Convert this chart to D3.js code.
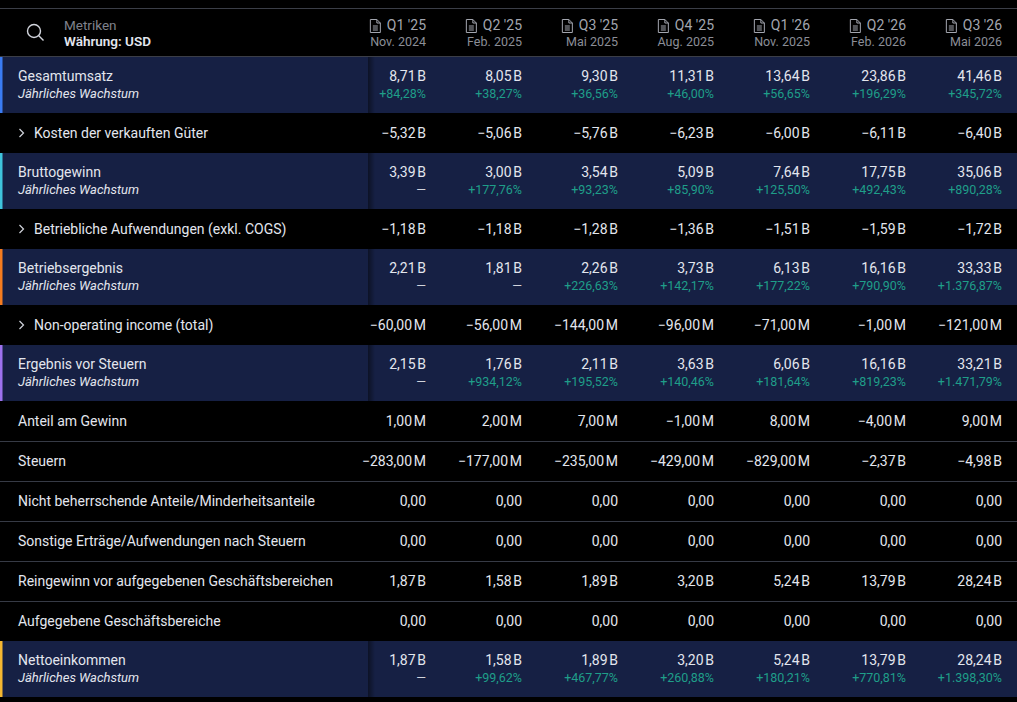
<!DOCTYPE html>
<html>
<head>
<meta charset="UTF-8">
<title></title>
<style type="text/css">
	html, body { margin: 0; padding: 0; background: #000; }
	svg { display: block; }
	text { font-family: "Trebuchet MS", Roboto, "Noto Sans", sans-serif; }
</style>
</head>
<body>
<div class="tableBox"></div>
<script src="https://cdn.jsdelivr.net/npm/d3@7/dist/d3.min.js"></script>
<script type="text/javascript">

// Spalten (Perioden)
var periods = ["Q1 '25", "Q2 '25", "Q3 '25", "Q4 '25", "Q1 '26", "Q2 '26", "Q3 '26"];
var periodDates = ["Nov. 2024", "Feb. 2025", "Mai 2025", "Aug. 2025", "Nov. 2025", "Feb. 2026", "Mai 2026"];

// Werte in Mio. USD, Wachstum in %
var revenue = [8710, 8050, 9300, 11310, 13640, 23860, 41460];
var revenueGrowth = [84.28, 38.27, 36.56, 46.00, 56.65, 196.29, 345.72];
var cogs = [-5320, -5060, -5760, -6230, -6000, -6110, -6400];
var grossProfit = [3390, 3000, 3540, 5090, 7640, 17750, 35060];
var grossProfitGrowth = [null, 177.76, 93.23, 85.90, 125.50, 492.43, 890.28];
var opex = [-1180, -1180, -1280, -1360, -1510, -1590, -1720];
var operatingIncome = [2210, 1810, 2260, 3730, 6130, 16160, 33330];
var operatingIncomeGrowth = [null, null, 226.63, 142.17, 177.22, 790.90, 1376.87];
var nonOperating = [-60, -56, -144, -96, -71, -1, -121];
var pretaxIncome = [2150, 1760, 2110, 3630, 6060, 16160, 33210];
var pretaxIncomeGrowth = [null, 934.12, 195.52, 140.46, 181.64, 819.23, 1471.79];
var equityShare = [1, 2, 7, -1, 8, -4, 9];
var taxes = [-283, -177, -235, -429, -829, -2370, -4980];
var minorityInterest = [0, 0, 0, 0, 0, 0, 0];
var otherAfterTax = [0, 0, 0, 0, 0, 0, 0];
var incomeContinuing = [1870, 1580, 1890, 3200, 5240, 13790, 28240];
var discontinued = [0, 0, 0, 0, 0, 0, 0];
var netIncome = [1870, 1580, 1890, 3200, 5240, 13790, 28240];
var netIncomeGrowth = [null, 99.62, 467.77, 260.88, 180.21, 770.81, 1398.30];

// Zeilen: Beschriftung, Werte, Wachstum, Akzentfarbe, aufklappbar
var rows = [
	{ label: "Gesamtumsatz", values: revenue, growth: revenueGrowth, accent: "#3a7cf4" },
	{ label: "Kosten der verkauften Güter", values: cogs, expand: true },
	{ label: "Bruttogewinn", values: grossProfit, growth: grossProfitGrowth, accent: "#3fc4dc" },
	{ label: "Betriebliche Aufwendungen (exkl. COGS)", values: opex, expand: true },
	{ label: "Betriebsergebnis", values: operatingIncome, growth: operatingIncomeGrowth, accent: "#f57c1f" },
	{ label: "Non-operating income (total)", values: nonOperating, expand: true },
	{ label: "Ergebnis vor Steuern", values: pretaxIncome, growth: pretaxIncomeGrowth, accent: "#9d72ee" },
	{ label: "Anteil am Gewinn", values: equityShare },
	{ label: "Steuern", values: taxes },
	{ label: "Nicht beherrschende Anteile/Minderheitsanteile", values: minorityInterest },
	{ label: "Sonstige Erträge/Aufwendungen nach Steuern", values: otherAfterTax },
	{ label: "Reingewinn vor aufgegebenen Geschäftsbereichen", values: incomeContinuing },
	{ label: "Aufgegebene Geschäftsbereiche", values: discontinued },
	{ label: "Nettoeinkommen", values: netIncome, growth: netIncomeGrowth, accent: "#f5b731" }
];

var width = 1017;
var height = 702;
var headerTop = 8;
var headerBottom = 57;
var hiHeight = 56; // Zeile mit Wachstum
var rowHeight = 40;
var labelColW = 368;

// deutsches Zahlenformat
var de = d3.formatLocale({ decimal: ",", thousands: ".", grouping: [3], currency: ["", " $"], minus: "\u2212" });
var f2 = de.format(",.2f");
var fPct = de.format("+,.2f");

function fmtValue(v) {
	if (v === 0) return "0,00";
	if (Math.abs(v) >= 1000) return f2(v / 1000) + "\u202FB";
	return f2(v) + "\u202FM";
}
function fmtGrowth(g) {
	return g == null ? "\u2014" : fPct(g) + "%";
}

// Zeilenpositionen
var yPos = 0;
rows.forEach(function(r) {
	r.h = r.growth ? hiHeight : rowHeight;
	r.y = headerBottom + yPos;
	yPos += r.h;
});

var x = d3.scalePoint()
	.domain(periods)
	.range([426, 1002]);

var svg = d3.select(".tableBox")
	.append("svg")
	.attr("width", width)
	.attr("height", height);

svg.append("rect")
	.attr("width", width)
	.attr("height", height)
	.attr("fill", "#000");

var defs = svg.append("defs");
var grad = defs.append("linearGradient").attr("id", "stickyShadow");
grad.append("stop").attr("offset", "0%").attr("stop-color", "#000").attr("stop-opacity", 0.45);
grad.append("stop").attr("offset", "100%").attr("stop-color", "#000").attr("stop-opacity", 0);

// Kopfzeile
svg.append("line")
	.attr("x1", 0).attr("x2", width)
	.attr("y1", headerTop + 0.5).attr("y2", headerTop + 0.5)
	.attr("stroke", "#3b3e47");
svg.append("line")
	.attr("x1", 0).attr("x2", width)
	.attr("y1", headerBottom - 0.5).attr("y2", headerBottom - 0.5)
	.attr("stroke", "#3b3e47");

// Lupe
var search = svg.append("g").attr("transform", "translate(34,31)")
	.attr("fill", "none").attr("stroke", "#d1d4dc").attr("stroke-width", 1.4);
search.append("circle").attr("r", 6.5);
search.append("line").attr("x1", 4.8).attr("y1", 4.8).attr("x2", 9.5).attr("y2", 9.5);

svg.append("text")
	.attr("x", 64).attr("y", 30)
	.attr("fill", "#7f828c").attr("font-size", 13.5)
	.text("Metriken");
svg.append("text")
	.attr("x", 64).attr("y", 46)
	.attr("fill", "#e3e6ee").attr("font-size", 13.5).attr("font-weight", 600)
	.text("Währung: USD");

var head = svg.selectAll("g.colHead")
	.data(periods)
	.enter()
	.append("g")
	.attr("class", "colHead")
	.attr("transform", function(d) { return "translate(" + x(d) + ",0)"; });

head.append("text")
	.attr("y", 30)
	.attr("text-anchor", "end")
	.attr("fill", "#a3a6af").attr("font-size", 14)
	.text(function(d) { return d; });
head.append("text")
	.attr("y", 46)
	.attr("text-anchor", "end")
	.attr("fill", "#8b8e97").attr("font-size", 12.5)
	.text(function(d, i) { return periodDates[i]; });

// Dokument-Symbol links vom Quartal
head.each(function() {
	var g = d3.select(this);
	var w = g.select("text").node().getComputedTextLength();
	var ic = g.append("g")
		.attr("transform", "translate(" + (-w - 17) + ",19)")
		.attr("fill", "none").attr("stroke", "#a3a6af").attr("stroke-width", 1);
	ic.append("path").attr("d", "M0.5,0.5 H7 L10.5,4 V13.5 H0.5 Z M7,0.5 V4 H10.5");
	ic.append("path").attr("d", "M3,7 H8 M3,9 H8 M3,11 H8");
});

// Zeilen
var row = svg.selectAll("g.row")
	.data(rows)
	.enter()
	.append("g")
	.attr("class", "row")
	.attr("transform", function(d) { return "translate(0," + d.y + ")"; });

row.filter(function(d) { return d.growth; })
	.append("rect")
	.attr("width", width)
	.attr("height", function(d) { return d.h; })
	.attr("fill", "#162044");

row.filter(function(d) { return d.growth; })
	.append("rect")
	.attr("x", labelColW)
	.attr("width", 7)
	.attr("height", function(d) { return d.h; })
	.attr("fill", "url(#stickyShadow)");

row.filter(function(d) { return d.accent; })
	.append("rect")
	.attr("width", 2.5)
	.attr("height", function(d) { return d.h; })
	.attr("fill", function(d) { return d.accent; });

// Trennlinien zwischen zwei einfachen Zeilen
row.filter(function(d, i) { return i > 0 && !d.growth && !d.expand && !rows[i - 1].growth && !rows[i - 1].expand; })
	.append("line")
	.attr("x1", 0).attr("x2", width)
	.attr("y1", 0.5).attr("y2", 0.5)
	.attr("stroke", "#363a45");

row.filter(function(d) { return d.expand; })
	.append("path")
	.attr("d", "M19.5,16 L23.5,20 L19.5,24")
	.attr("fill", "none")
	.attr("stroke", "#d1d4dc")
	.attr("stroke-width", 1.2);

row.append("text")
	.attr("x", function(d) { return d.expand ? 34 : 18; })
	.attr("y", function(d) { return d.growth ? 24 : 25; })
	.attr("fill", "#e3e6ee")
	.attr("font-size", 14)
	.text(function(d) { return d.label; });

row.filter(function(d) { return d.growth; })
	.append("text")
	.attr("x", 18).attr("y", 41)
	.attr("fill", "#e3e6ee")
	.attr("font-size", 13)
	.attr("font-style", "italic")
	.text("Jährliches Wachstum");

row.selectAll("text.val")
	.data(function(d) { return d.values.map(function(v, i) { return { v: v, p: periods[i], hi: !!d.growth }; }); })
	.enter()
	.append("text")
	.attr("class", "val")
	.attr("x", function(d) { return x(d.p); })
	.attr("y", function(d) { return d.hi ? 24 : 25; })
	.attr("text-anchor", "end")
	.attr("fill", "#e3e6ee")
	.attr("font-size", 14)
	.text(function(d) { return fmtValue(d.v); });

row.filter(function(d) { return d.growth; })
	.selectAll("text.growth")
	.data(function(d) { return d.growth.map(function(g, i) { return { g: g, p: periods[i] }; }); })
	.enter()
	.append("text")
	.attr("class", "growth")
	.attr("x", function(d) { return x(d.p); })
	.attr("y", 41)
	.attr("text-anchor", "end")
	.attr("fill", function(d) { return d.g == null ? "#d1d4dc" : "#1f9e89"; })
	.attr("font-size", 12.5)
	.text(function(d) { return fmtGrowth(d.g); });

</script>
</body>
</html>
